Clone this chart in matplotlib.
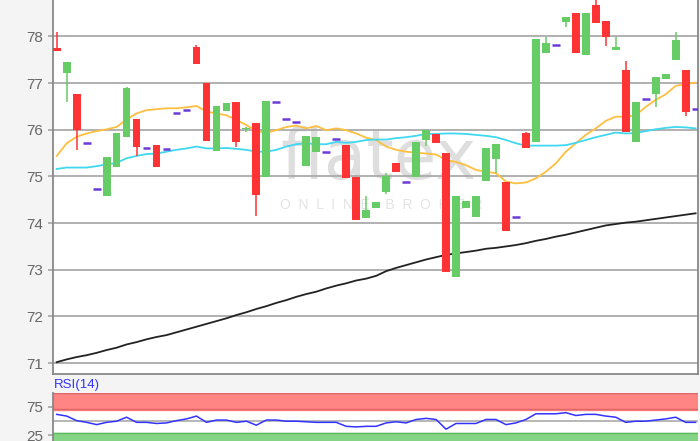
import numpy as np
import matplotlib
matplotlib.use("Agg")
import matplotlib.pyplot as plt

plt.rcParams['font.family'] = ['Liberation Sans', 'DejaVu Sans']

# OHLC values (flat bars: open = high = low = close)
opens = [77.76, 77.21, 76.76, 75.72, 74.72, 74.57, 75.21, 75.85, 76.23, 75.61,
         75.67, 75.59, 76.36, 76.42, 77.78, 77.00, 75.54, 76.40, 76.59, 76.01,
         76.15, 74.99, 76.59, 76.23, 76.16, 75.22, 75.52, 75.53, 75.81, 75.67,
         74.99, 74.10, 74.32, 74.67, 75.28, 74.87, 74.99, 75.79, 75.90, 75.51,
         72.85, 74.32, 74.12, 74.91, 75.37, 74.87, 74.14, 75.92, 75.74, 77.64,
         77.81, 78.30, 78.51, 77.60, 78.67, 78.33, 77.71, 77.28, 75.74, 76.66,
         76.76, 77.08, 77.49, 77.28, 76.44]
highs = [78.09, 77.45, 76.76, 75.72, 74.72, 75.42, 75.92, 76.92, 76.23, 75.61,
         75.67, 75.59, 76.36, 76.42, 77.81, 77.00, 76.51, 76.57, 76.59, 76.05,
         76.15, 76.62, 76.59, 76.23, 76.16, 75.87, 75.84, 75.53, 75.81, 75.67,
         74.99, 74.59, 74.45, 75.07, 75.28, 74.87, 75.73, 75.99, 75.90, 75.51,
         74.57, 74.47, 74.57, 75.61, 75.69, 74.87, 74.14, 75.96, 77.94, 77.99,
         77.81, 78.42, 78.51, 78.51, 78.85, 78.33, 77.99, 77.48, 76.59, 76.66,
         77.13, 77.19, 78.09, 77.28, 76.44]
lows = [77.69, 76.60, 75.57, 75.72, 74.72, 74.57, 75.21, 75.85, 75.44, 75.61,
        75.21, 75.59, 76.36, 76.42, 77.40, 75.76, 75.54, 76.40, 75.62, 75.96,
        74.15, 74.99, 76.59, 76.23, 76.16, 75.22, 75.52, 75.53, 75.81, 74.96,
        74.07, 74.10, 74.32, 74.62, 75.10, 74.87, 74.99, 75.66, 75.71, 72.96,
        72.85, 74.32, 74.12, 74.91, 75.07, 73.83, 74.14, 75.60, 75.74, 77.64,
        77.81, 78.21, 77.64, 77.60, 78.29, 77.80, 77.71, 75.96, 75.74, 76.66,
        76.49, 77.08, 77.49, 76.29, 76.44]
closes = [77.69, 77.45, 75.99, 75.72, 74.72, 75.42, 75.92, 76.90, 75.64, 75.61,
          75.21, 75.59, 76.36, 76.42, 77.40, 75.76, 76.51, 76.57, 75.74, 76.04,
          74.60, 76.62, 76.59, 76.23, 76.16, 75.87, 75.84, 75.53, 75.81, 74.96,
          74.07, 74.28, 74.45, 75.01, 75.10, 74.87, 75.73, 75.99, 75.71, 72.96,
          74.57, 74.47, 74.57, 75.61, 75.69, 73.83, 74.14, 75.60, 77.94, 77.86,
          77.81, 78.42, 77.64, 78.51, 78.29, 77.99, 77.78, 75.96, 76.59, 76.66,
          77.13, 77.19, 77.92, 76.38, 76.44]

ma_short = [75.44, 75.71, 75.85, 75.92, 75.97, 76.01, 76.06, 76.22, 76.35, 76.42,
            76.44, 76.46, 76.46, 76.48, 76.51, 76.39, 76.35, 76.31, 76.21, 76.10,
            75.97, 75.94, 75.99, 76.06, 76.09, 76.03, 76.08, 75.99, 76.03, 75.99,
            75.92, 75.83, 75.78, 75.64, 75.57, 75.53, 75.51, 75.49, 75.47, 75.35,
            75.31, 75.24, 75.14, 75.10, 75.07, 74.89, 74.85, 74.87, 74.96, 75.10,
            75.28, 75.53, 75.71, 75.89, 76.03, 76.19, 76.28, 76.28, 76.31, 76.49,
            76.64, 76.76, 76.94, 76.98, 77.01]
ma_mid = [75.16, 75.19, 75.19, 75.19, 75.22, 75.26, 75.29, 75.39, 75.44, 75.48,
          75.49, 75.53, 75.57, 75.60, 75.64, 75.60, 75.60, 75.61, 75.59, 75.57,
          75.53, 75.53, 75.57, 75.64, 75.69, 75.71, 75.69, 75.69, 75.74, 75.72,
          75.74, 75.78, 75.79, 75.79, 75.82, 75.84, 75.87, 75.91, 75.91, 75.92,
          75.92, 75.91, 75.89, 75.87, 75.84, 75.78, 75.71, 75.66, 75.66, 75.66,
          75.66, 75.67, 75.72, 75.78, 75.84, 75.89, 75.94, 75.92, 75.93, 75.97,
          76.01, 76.04, 76.06, 76.05, 76.03]
ma_long = [71.02, 71.08, 71.13, 71.17, 71.22, 71.28, 71.33, 71.40, 71.45, 71.51,
           71.56, 71.60, 71.66, 71.72, 71.78, 71.84, 71.90, 71.96, 72.03, 72.09,
           72.16, 72.22, 72.29, 72.35, 72.42, 72.48, 72.53, 72.60, 72.66, 72.71,
           72.77, 72.81, 72.87, 72.97, 73.04, 73.10, 73.16, 73.22, 73.27, 73.32,
           73.35, 73.38, 73.41, 73.45, 73.47, 73.50, 73.53, 73.57, 73.62, 73.66,
           73.71, 73.75, 73.80, 73.85, 73.90, 73.95, 73.98, 74.01, 74.03, 74.06,
           74.09, 74.12, 74.15, 74.18, 74.21]
rsi = [62, 59, 51, 48, 44, 48, 50, 57, 48, 48, 46, 47, 51, 54, 59, 48, 52, 52, 48, 50,
       43, 52, 52, 50, 50, 49, 48, 48, 48, 41, 40, 41, 41, 47, 49, 47, 53, 55, 53, 36,
       46, 46, 46, 53, 53, 44, 47, 53, 63, 63, 63, 65, 60, 62, 62, 59, 57, 48, 50, 50,
       52, 54, 57, 48, 48]
price_ticks = [71, 72, 73, 74, 75, 76, 77, 78]
rsi_ticks = [75, 25]

o = np.array(opens); h = np.array(highs); l = np.array(lows); c = np.array(closes)
x = np.arange(len(o))

red = '#ff3333'
green = '#66cc66'
purple = '#6a3bd8'
gridc = '#aaaaaa'
spinec = '#888888'
labc = '#666666'

fig = plt.figure(figsize=(7, 4.41), dpi=100, facecolor='#f4f4f4')
ax = fig.add_axes([0.075, 0.1512, 0.922, 0.8488])
ax.set_facecolor('white')

# watermark
ax.text(0.505, 0.575, 'flatex', transform=ax.transAxes, ha='center', va='center',
        fontsize=50, color='#dedede', zorder=0, fontfamily='DejaVu Sans')
ax.text(0.51, 0.452, '  '.join('ONLINE') + '    ' + '  '.join('BROKER'),
        transform=ax.transAxes, ha='center', va='center', fontsize=10,
        color='#e4e4e4', zorder=0)

flat = (o == c) & (h == l)
up = (c >= o) & ~flat
dn = (c < o) & ~flat
w = 0.78
for m, col in [(up, green), (dn, red)]:
    ax.vlines(x[m], l[m], h[m], color=col, lw=1.1, zorder=3)
    ax.bar(x[m], np.maximum(np.abs(c[m] - o[m]), 0.03), bottom=np.minimum(o[m], c[m]),
           width=w, color=col, zorder=3)
ax.hlines(c[flat], x[flat] - w / 2, x[flat] + w / 2, color=purple, lw=1.8, zorder=3)

ax.plot(x, ma_short, color='#ffbf40', lw=1.3, zorder=2)
ax.plot(x, ma_mid, color='#40d8f0', lw=1.3, zorder=2)
ax.plot(x, ma_long, color='#222222', lw=1.3, zorder=2)

ax.set_xlim(-0.42, 64.23)
ax.set_ylim(70.76, 78.78)
ax.set_yticks(price_ticks)
ax.set_yticklabels([str(t) for t in price_ticks])
ax.grid(axis='y', color=gridc, lw=1.3)
ax.set_axisbelow(True)
ax.tick_params(axis='y', colors=gridc, labelcolor=labc, labelsize=11, length=3.5, width=1.3, pad=3)
ax.set_xticks([])
for s in ['left', 'bottom', 'right']:
    ax.spines[s].set_color(spinec)
    ax.spines[s].set_linewidth(1.3)
ax.spines['top'].set_visible(False)

# RSI panel
ax2 = fig.add_axes([0.075, -0.0197, 0.922, 0.1292])
ax2.set_facecolor('white')
ax2.axhspan(70, 100, color='#ff8585', zorder=0)
ax2.axhspan(0, 30, color='#85d485', zorder=0)
ax2.axhline(99, color='#e06666', lw=1)
ax2.axhline(71, color='#e06666', lw=1)
ax2.axhline(29, color='#5cb85c', lw=1)
ax2.axhline(50, color=gridc, lw=1.2)
ax2.plot(x, rsi, color='#3333ff', lw=1.1, zorder=3)
ax2.set_xlim(-0.42, 64.23)
ax2.set_ylim(0, 100)
ax2.set_yticks(rsi_ticks)
ax2.set_yticklabels([str(t) for t in rsi_ticks])
ax2.tick_params(axis='y', colors=gridc, labelcolor=labc, labelsize=11, length=3.5, width=1.3, pad=3)
ax2.set_xticks([])
for s in ['top', 'right', 'bottom']:
    ax2.spines[s].set_visible(False)
ax2.spines['left'].set_color(spinec)
ax2.spines['left'].set_linewidth(1.3)
fig.text(0.077, 0.128, 'RSI(14)', color='#3333ff', fontsize=9.5, ha='left', va='center')

fig.savefig('out.png', dpi=100, facecolor=fig.get_facecolor())
